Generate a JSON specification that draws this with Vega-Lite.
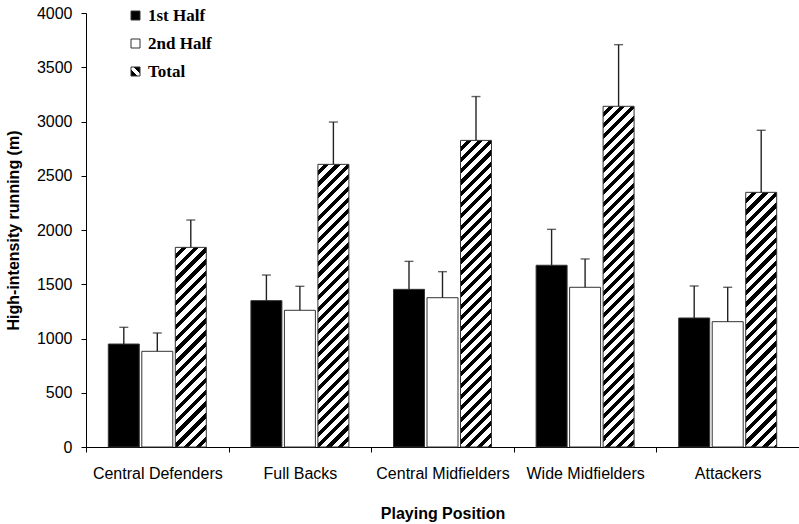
{
  "$schema": "https://vega.github.io/schema/vega-lite/v6.json",
  "width": 713,
  "height": 434,
  "autosize": "none",
  "padding": {"left": 86, "top": 13, "right": 0, "bottom": 77},
  "background": "white",
  "config": {"view": {"stroke": null}},
  "params": [
    {"name": "hatch", "value": [
      {"offset": 0, "color": "#fff"}, {"offset": 0.0165, "color": "#fff"}, {"offset": 0.0165, "color": "#000"}, {"offset": 0.03, "color": "#000"},
      {"offset": 0.03, "color": "#fff"}, {"offset": 0.0465, "color": "#fff"}, {"offset": 0.0465, "color": "#000"}, {"offset": 0.06, "color": "#000"},
      {"offset": 0.06, "color": "#fff"}, {"offset": 0.0765, "color": "#fff"}, {"offset": 0.0765, "color": "#000"}, {"offset": 0.09, "color": "#000"},
      {"offset": 0.09, "color": "#fff"}, {"offset": 0.1065, "color": "#fff"}, {"offset": 0.1065, "color": "#000"}, {"offset": 0.12, "color": "#000"},
      {"offset": 0.12, "color": "#fff"}, {"offset": 0.1365, "color": "#fff"}, {"offset": 0.1365, "color": "#000"}, {"offset": 0.15, "color": "#000"},
      {"offset": 0.15, "color": "#fff"}, {"offset": 0.1665, "color": "#fff"}, {"offset": 0.1665, "color": "#000"}, {"offset": 0.18, "color": "#000"},
      {"offset": 0.18, "color": "#fff"}, {"offset": 0.1965, "color": "#fff"}, {"offset": 0.1965, "color": "#000"}, {"offset": 0.21, "color": "#000"},
      {"offset": 0.21, "color": "#fff"}, {"offset": 0.2265, "color": "#fff"}, {"offset": 0.2265, "color": "#000"}, {"offset": 0.24, "color": "#000"},
      {"offset": 0.24, "color": "#fff"}, {"offset": 0.2565, "color": "#fff"}, {"offset": 0.2565, "color": "#000"}, {"offset": 0.27, "color": "#000"},
      {"offset": 0.27, "color": "#fff"}, {"offset": 0.2865, "color": "#fff"}, {"offset": 0.2865, "color": "#000"}, {"offset": 0.3, "color": "#000"},
      {"offset": 0.3, "color": "#fff"}, {"offset": 0.3165, "color": "#fff"}, {"offset": 0.3165, "color": "#000"}, {"offset": 0.33, "color": "#000"},
      {"offset": 0.33, "color": "#fff"}, {"offset": 0.3465, "color": "#fff"}, {"offset": 0.3465, "color": "#000"}, {"offset": 0.36, "color": "#000"},
      {"offset": 0.36, "color": "#fff"}, {"offset": 0.3765, "color": "#fff"}, {"offset": 0.3765, "color": "#000"}, {"offset": 0.39, "color": "#000"},
      {"offset": 0.39, "color": "#fff"}, {"offset": 0.4065, "color": "#fff"}, {"offset": 0.4065, "color": "#000"}, {"offset": 0.42, "color": "#000"},
      {"offset": 0.42, "color": "#fff"}, {"offset": 0.4365, "color": "#fff"}, {"offset": 0.4365, "color": "#000"}, {"offset": 0.45, "color": "#000"},
      {"offset": 0.45, "color": "#fff"}, {"offset": 0.4665, "color": "#fff"}, {"offset": 0.4665, "color": "#000"}, {"offset": 0.48, "color": "#000"},
      {"offset": 0.48, "color": "#fff"}, {"offset": 0.4965, "color": "#fff"}, {"offset": 0.4965, "color": "#000"}, {"offset": 0.51, "color": "#000"},
      {"offset": 0.51, "color": "#fff"}, {"offset": 0.5265, "color": "#fff"}, {"offset": 0.5265, "color": "#000"}, {"offset": 0.54, "color": "#000"},
      {"offset": 0.54, "color": "#fff"}, {"offset": 0.5565, "color": "#fff"}, {"offset": 0.5565, "color": "#000"}, {"offset": 0.57, "color": "#000"},
      {"offset": 0.57, "color": "#fff"}, {"offset": 0.5865, "color": "#fff"}, {"offset": 0.5865, "color": "#000"}, {"offset": 0.6, "color": "#000"},
      {"offset": 0.6, "color": "#fff"}, {"offset": 0.6165, "color": "#fff"}, {"offset": 0.6165, "color": "#000"}, {"offset": 0.63, "color": "#000"},
      {"offset": 0.63, "color": "#fff"}, {"offset": 0.6465, "color": "#fff"}, {"offset": 0.6465, "color": "#000"}, {"offset": 0.66, "color": "#000"},
      {"offset": 0.66, "color": "#fff"}, {"offset": 0.6765, "color": "#fff"}, {"offset": 0.6765, "color": "#000"}, {"offset": 0.69, "color": "#000"},
      {"offset": 0.69, "color": "#fff"}, {"offset": 0.7065, "color": "#fff"}, {"offset": 0.7065, "color": "#000"}, {"offset": 0.72, "color": "#000"},
      {"offset": 0.72, "color": "#fff"}, {"offset": 0.7365, "color": "#fff"}, {"offset": 0.7365, "color": "#000"}, {"offset": 0.75, "color": "#000"},
      {"offset": 0.75, "color": "#fff"}, {"offset": 0.7665, "color": "#fff"}, {"offset": 0.7665, "color": "#000"}, {"offset": 0.78, "color": "#000"},
      {"offset": 0.78, "color": "#fff"}, {"offset": 0.7965, "color": "#fff"}, {"offset": 0.7965, "color": "#000"}, {"offset": 0.81, "color": "#000"},
      {"offset": 0.81, "color": "#fff"}, {"offset": 0.8265, "color": "#fff"}, {"offset": 0.8265, "color": "#000"}, {"offset": 0.84, "color": "#000"},
      {"offset": 0.84, "color": "#fff"}, {"offset": 0.8565, "color": "#fff"}, {"offset": 0.8565, "color": "#000"}, {"offset": 0.87, "color": "#000"},
      {"offset": 0.87, "color": "#fff"}, {"offset": 0.8865, "color": "#fff"}, {"offset": 0.8865, "color": "#000"}, {"offset": 0.9, "color": "#000"},
      {"offset": 0.9, "color": "#fff"}, {"offset": 0.9165, "color": "#fff"}, {"offset": 0.9165, "color": "#000"}, {"offset": 0.93, "color": "#000"},
      {"offset": 0.93, "color": "#fff"}, {"offset": 0.9465, "color": "#fff"}, {"offset": 0.9465, "color": "#000"}, {"offset": 0.96, "color": "#000"},
      {"offset": 0.96, "color": "#fff"}, {"offset": 0.9765, "color": "#fff"}, {"offset": 0.9765, "color": "#000"}, {"offset": 0.99, "color": "#000"},
      {"offset": 0.99, "color": "#fff"}, {"offset": 1, "color": "#fff"}
    ]}
  ],
  "data": {
    "values": [
      {"position": "Central Defenders", "half": "1st Half", "value": 949, "upper": 1103},
      {"position": "Central Defenders", "half": "2nd Half", "value": 882, "upper": 1051},
      {"position": "Central Defenders", "half": "Total", "value": 1840, "upper": 2092},
      {"position": "Full Backs", "half": "1st Half", "value": 1349, "upper": 1585},
      {"position": "Full Backs", "half": "2nd Half", "value": 1260, "upper": 1481},
      {"position": "Full Backs", "half": "Total", "value": 2605, "upper": 2995},
      {"position": "Central Midfielders", "half": "1st Half", "value": 1453, "upper": 1711},
      {"position": "Central Midfielders", "half": "2nd Half", "value": 1376, "upper": 1616},
      {"position": "Central Midfielders", "half": "Total", "value": 2826, "upper": 3230},
      {"position": "Wide Midfielders", "half": "1st Half", "value": 1675, "upper": 2006},
      {"position": "Wide Midfielders", "half": "2nd Half", "value": 1472, "upper": 1733},
      {"position": "Wide Midfielders", "half": "Total", "value": 3140, "upper": 3708},
      {"position": "Attackers", "half": "1st Half", "value": 1189, "upper": 1484},
      {"position": "Attackers", "half": "2nd Half", "value": 1155, "upper": 1472},
      {"position": "Attackers", "half": "Total", "value": 2347, "upper": 2919}
    ]
  },
  "encoding": {
    "x": {
      "field": "position",
      "type": "nominal",
      "sort": ["Central Defenders", "Full Backs", "Central Midfielders", "Wide Midfielders", "Attackers"],
      "scale": {"paddingInner": 0, "paddingOuter": 0},
      "axis": {
        "title": "Playing Position",
        "tickBand": "extent",
        "labelAngle": 0,
        "labelOverlap": false,
        "grid": false,
        "domainColor": "#000",
        "tickColor": "#000",
        "tickSize": 5,
        "labelFont": "Liberation Sans",
        "labelFontSize": 16,
        "labelColor": "#000",
        "labelPadding": 13,
        "titleFont": "Liberation Sans",
        "titleFontSize": 16,
        "titleFontWeight": "bold",
        "titleColor": "#000",
        "titlePadding": 24
      }
    },
    "xOffset": {
      "field": "half",
      "type": "nominal",
      "scale": {"domain": ["1st Half", "2nd Half", "Total"], "paddingInner": 0.075, "paddingOuter": 0.666}
    },
    "y": {
      "field": "value",
      "type": "quantitative",
      "title": "High-intensity running (m)",
      "scale": {"domain": [0, 4000], "nice": false},
      "axis": {
        "values": [0, 500, 1000, 1500, 2000, 2500, 3000, 3500, 4000],
        "format": "d",
        "grid": false,
        "domainColor": "#000",
        "tickColor": "#000",
        "tickSize": 5,
        "labelFont": "Liberation Sans",
        "labelFontSize": 16,
        "labelColor": "#000",
        "labelPadding": 9,
        "titleFont": "Liberation Sans",
        "titleFontSize": 16,
        "titleFontWeight": "bold",
        "titleColor": "#000",
        "titlePadding": 15
      }
    }
  },
  "layer": [
    {
      "transform": [{"filter": "datum.half !== 'Total'"}],
      "mark": {"type": "bar", "stroke": "#333", "strokeWidth": 1},
      "encoding": {
        "fill": {
          "field": "half",
          "type": "nominal",
          "scale": {
            "domain": ["1st Half", "2nd Half", "Total"],
            "range": ["#000", "#fff", {"expr": "{gradient: 'linear', x1: 0, y1: 1, x2: 1, y2: 0, stops: [{offset: 0, color: '#000'}, {offset: 0.36, color: '#000'}, {offset: 0.36, color: '#fff'}, {offset: 0.64, color: '#fff'}, {offset: 0.64, color: '#000'}, {offset: 1, color: '#000'}]}"}]
          },
          "legend": {
            "orient": "none",
            "legendX": 41,
            "legendY": -6,
            "title": null,
            "padding": 0,
            "rowPadding": 10,
            "labelFont": "Liberation Serif",
            "labelFontWeight": "bold",
            "labelFontSize": 17,
            "labelColor": "#000",
            "labelOffset": 4,
            "symbolType": "square",
            "symbolSize": 81,
            "symbolStrokeColor": "#333",
            "symbolStrokeWidth": 1
          }
        }
      }
    },
    {
      "transform": [{"filter": "datum.half === 'Total'"}],
      "mark": {
        "type": "bar",
        "stroke": "#333",
        "strokeWidth": 1,
        "fill": {"expr": "{gradient: 'linear', x1: 0, y1: 0, x2: (1 + 0.0035*datum.value) / ((1 + 0.0035*datum.value*0.0035*datum.value) * datum.value / 3150), y2: 0.0035*datum.value*(1 + 0.0035*datum.value) / ((1 + 0.0035*datum.value*0.0035*datum.value) * datum.value / 3150), stops: hatch}"}
      }
    },
    {
      "mark": {"type": "rule", "color": "#222", "strokeWidth": 1.4},
      "encoding": {
        "y2": {"field": "upper"}
      }
    },
    {
      "mark": {"type": "tick", "color": "#222", "thickness": 1.4, "size": 9},
      "encoding": {
        "y": {"field": "upper", "type": "quantitative", "title": "High-intensity running (m)"}
      }
    }
  ]
}
